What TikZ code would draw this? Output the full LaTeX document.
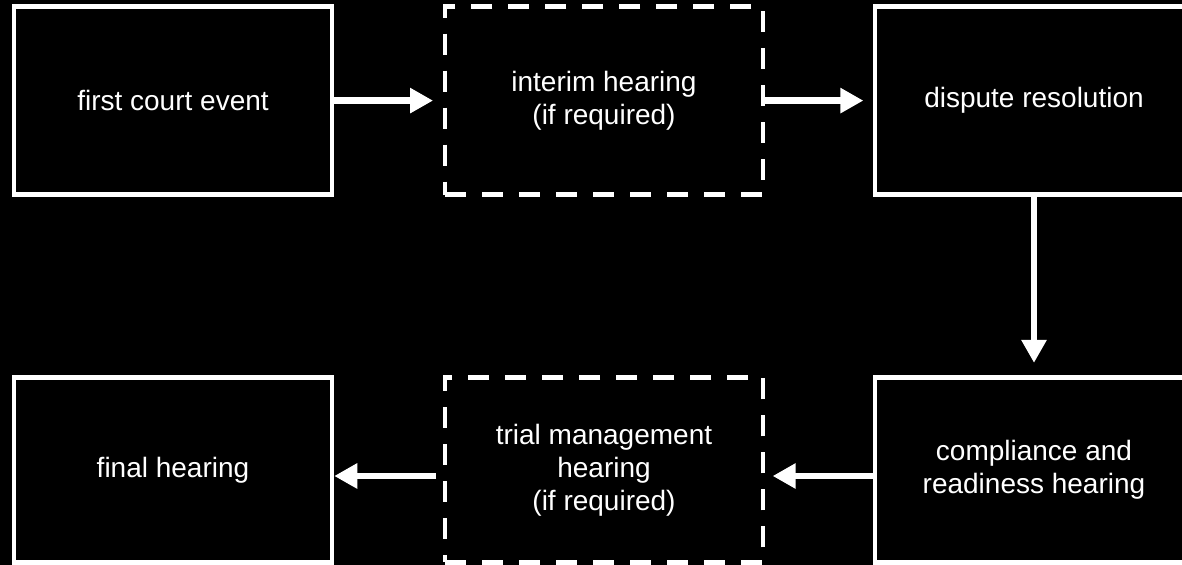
\documentclass[tikz,border=0pt]{standalone}
\usepackage{fontspec}
\setmainfont{Liberation Sans}
\usetikzlibrary{arrows.meta}
\begin{document}
\begin{tikzpicture}[x=0.5pt,y=-0.5pt,
  box/.style={draw=white, line width=2.25pt, rectangle, inner sep=0pt, minimum width=159pt, text=white, align=center, font=\fontsize{14}{16.5}\selectfont},
  toprow/.style={minimum height=94pt},
  botrow/.style={minimum height=92.5pt},
  dbox/.style={box, dash pattern=on 10.5pt off 8pt},
  arr/.style={draw=white, line width=3.3pt, -{Triangle[width=12pt,length=11.5pt]}}]
\fill[black] (0,0) rectangle (1182,565);
\useasboundingbox (0,0) rectangle (1182,565);
\clip (0,0) rectangle (1182,565);
\node[box,toprow] (b1) at (173,100.6) {first court event};
\node[dbox,toprow] (b2) at (604,100.6) {interim hearing\\(if required)};
\node[box,toprow] (b3) at (1034,100.6) {dispute resolution};
\node[box,botrow] (b4) at (173,470) {final hearing};
\node[dbox,botrow] (b5) at (604,470) {trial management\\hearing\\(if required)};
\node[box,botrow] (b6) at (1034,470) {compliance and\\readiness hearing};
\draw[arr, shorten >=4.85pt] (b1.east) -- (b2.west);
\draw[arr, shorten >=4.7pt, shorten <=-1pt] (b2.east) -- (b3.west);
\draw[arr, shorten >=6.2pt] (b3.south) -- (b6.north);
\draw[arr, shorten >=3.7pt] ([yshift=-3pt]b6.west) -- ([yshift=-3pt]b5.east);
\draw[arr, shorten <=3.35pt] ([yshift=-3pt]b5.west) -- ([yshift=-3pt]b4.east);
\end{tikzpicture}
\end{document}
